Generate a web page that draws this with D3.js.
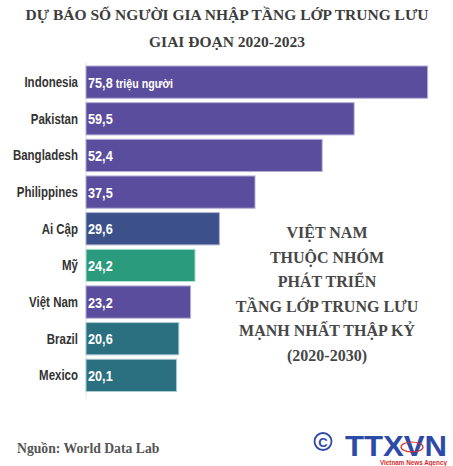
<!DOCTYPE html>
<html><head><meta charset="utf-8">
<script src="https://cdn.jsdelivr.net/npm/d3@7"></script>
<style>body{margin:0;background:#fff}</style>
</head><body>
<script>
const countries = ["Indonesia","Pakistan","Bangladesh","Philippines","Ai Cập","Mỹ","Việt Nam","Brazil","Mexico"];
const values = [75.8,59.5,52.4,37.5,29.6,24.2,23.2,20.6,20.1];
const valueLabels = ["75,8","59,5","52,4","37,5","29,6","24,2","23,2","20,6","20,1"];
const unitLabel = "triệu người";
const barColors = ["#5b4d9e","#5b4d9e","#5b4d9e","#5b4d9e","#3c5189","#2a9b7c","#5b4d9e","#2a7080","#2a7080"];
const strokeColors = ["#b4aed6","#b4aed6","#b4aed6","#b4aed6","#a9b3d0","#b8e4d6","#b4aed6","#a9cbd1","#a9cbd1"];
const titleLines = ["DỰ BÁO SỐ NGƯỜI GIA NHẬP TẦNG LỚP TRUNG LƯU","GIAI ĐOẠN 2020-2023"];
const noteLines = ["VIỆT NAM","THUỘC NHÓM","PHÁT TRIỂN","TẦNG LỚP TRUNG LƯU","MẠNH NHẤT THẬP KỶ","(2020-2030)"];
const sourceText = "Nguồn: World Data Lab";

const W = 453, H = 466;
const svg = d3.select("body").append("svg").attr("width", W).attr("height", H);
const x = d3.scaleLinear().domain([0, 75.8]).range([86, 427.6]);
const y = d3.scaleBand().domain(countries).range([61.6, 395.9]).padding(0.12);

const serif = "'Liberation Serif','Times New Roman',serif";
const sans = "'Liberation Sans',Arial,sans-serif";
const sx = 0.82; // condensed look

svg.selectAll("text.title").data(titleLines).join("text")
  .attr("x", 227).attr("y", (d,i) => 20 + i*27)
  .attr("text-anchor","middle").attr("font-family", serif).attr("font-weight","bold")
  .attr("font-size", 15.5).attr("fill","#3d3d3d").text(d => d);

// axis line
svg.append("line").attr("x1", 86).attr("x2", 86).attr("y1", 62).attr("y2", 399)
  .attr("stroke","#e6e6e6").attr("stroke-width",1);

svg.selectAll("rect.bar").data(countries).join("rect")
  .attr("x", x(0)).attr("y", d => y(d))
  .attr("width", (d,i) => x(values[i]) - x(0)).attr("height", y.bandwidth())
  .attr("fill", (d,i) => barColors[i]).attr("stroke", (d,i) => strokeColors[i]).attr("stroke-width", 1);

svg.selectAll("text.cat").data(countries).join("text")
  .attr("transform", d => `translate(78,${y(d) + y.bandwidth()/2 + 5}) scale(${sx},1)`)
  .attr("text-anchor","end").attr("font-family", sans).attr("font-weight","bold")
  .attr("font-size", 14).attr("fill","#333").text(d => d);

svg.selectAll("text.val").data(countries).join("text")
  .attr("transform", d => `translate(88,${y(d) + y.bandwidth()/2 + 5.5}) scale(${sx},1)`)
  .attr("font-family", sans).attr("font-weight","bold")
  .attr("font-size", 15.5).attr("fill","#fff")
  .each(function(d,i){
    const t = d3.select(this);
    t.append("tspan").text(valueLabels[i]);
    if (i === 0) t.append("tspan").attr("font-size", 13).text(" " + unitLabel);
  });

svg.selectAll("text.note").data(noteLines).join("text")
  .attr("x", 327).attr("y", (d,i) => 238 + i*24.5)
  .attr("text-anchor","middle").attr("font-family", serif).attr("font-weight","bold")
  .attr("font-size", 16).attr("fill","#474747").text(d => d);

svg.append("text").attr("x", 17).attr("y", 453)
  .attr("font-family", serif).attr("font-weight","bold").attr("font-size", 13.7)
  .attr("fill","#555").text(sourceText);

// logo
const logo = svg.append("g");
logo.append("circle").attr("cx", 323).attr("cy", 441.5).attr("r", 8.5)
  .attr("fill","none").attr("stroke","#2d4aa8").attr("stroke-width",1.8);
logo.append("text").attr("x", 323).attr("y", 446.5).attr("text-anchor","middle")
  .attr("font-family", sans).attr("font-weight","bold")
  .attr("font-size", 13).attr("fill","#2d4aa8").text("C");
logo.append("text").attr("x", 345).attr("y", 455.5).attr("textLength", 102).attr("lengthAdjust","spacingAndGlyphs")
  .attr("font-family", sans).attr("font-weight","900")
  .attr("font-size", 29).attr("fill","#2d4aa8").text("TTXVN");
logo.append("ellipse").attr("cx", 412).attr("cy", 447).attr("rx", 11).attr("ry", 5)
  .attr("fill","none").attr("stroke","#d62b2b").attr("stroke-width",1.2);
logo.append("text").attr("x", 447).attr("y", 464.5).attr("text-anchor","end")
  .attr("textLength", 67).attr("lengthAdjust","spacingAndGlyphs")
  .attr("font-family", sans).attr("font-weight","bold")
  .attr("font-size", 6.8).attr("fill","#d62b2b").text("Vietnam News Agency");
</script>
</body></html>
